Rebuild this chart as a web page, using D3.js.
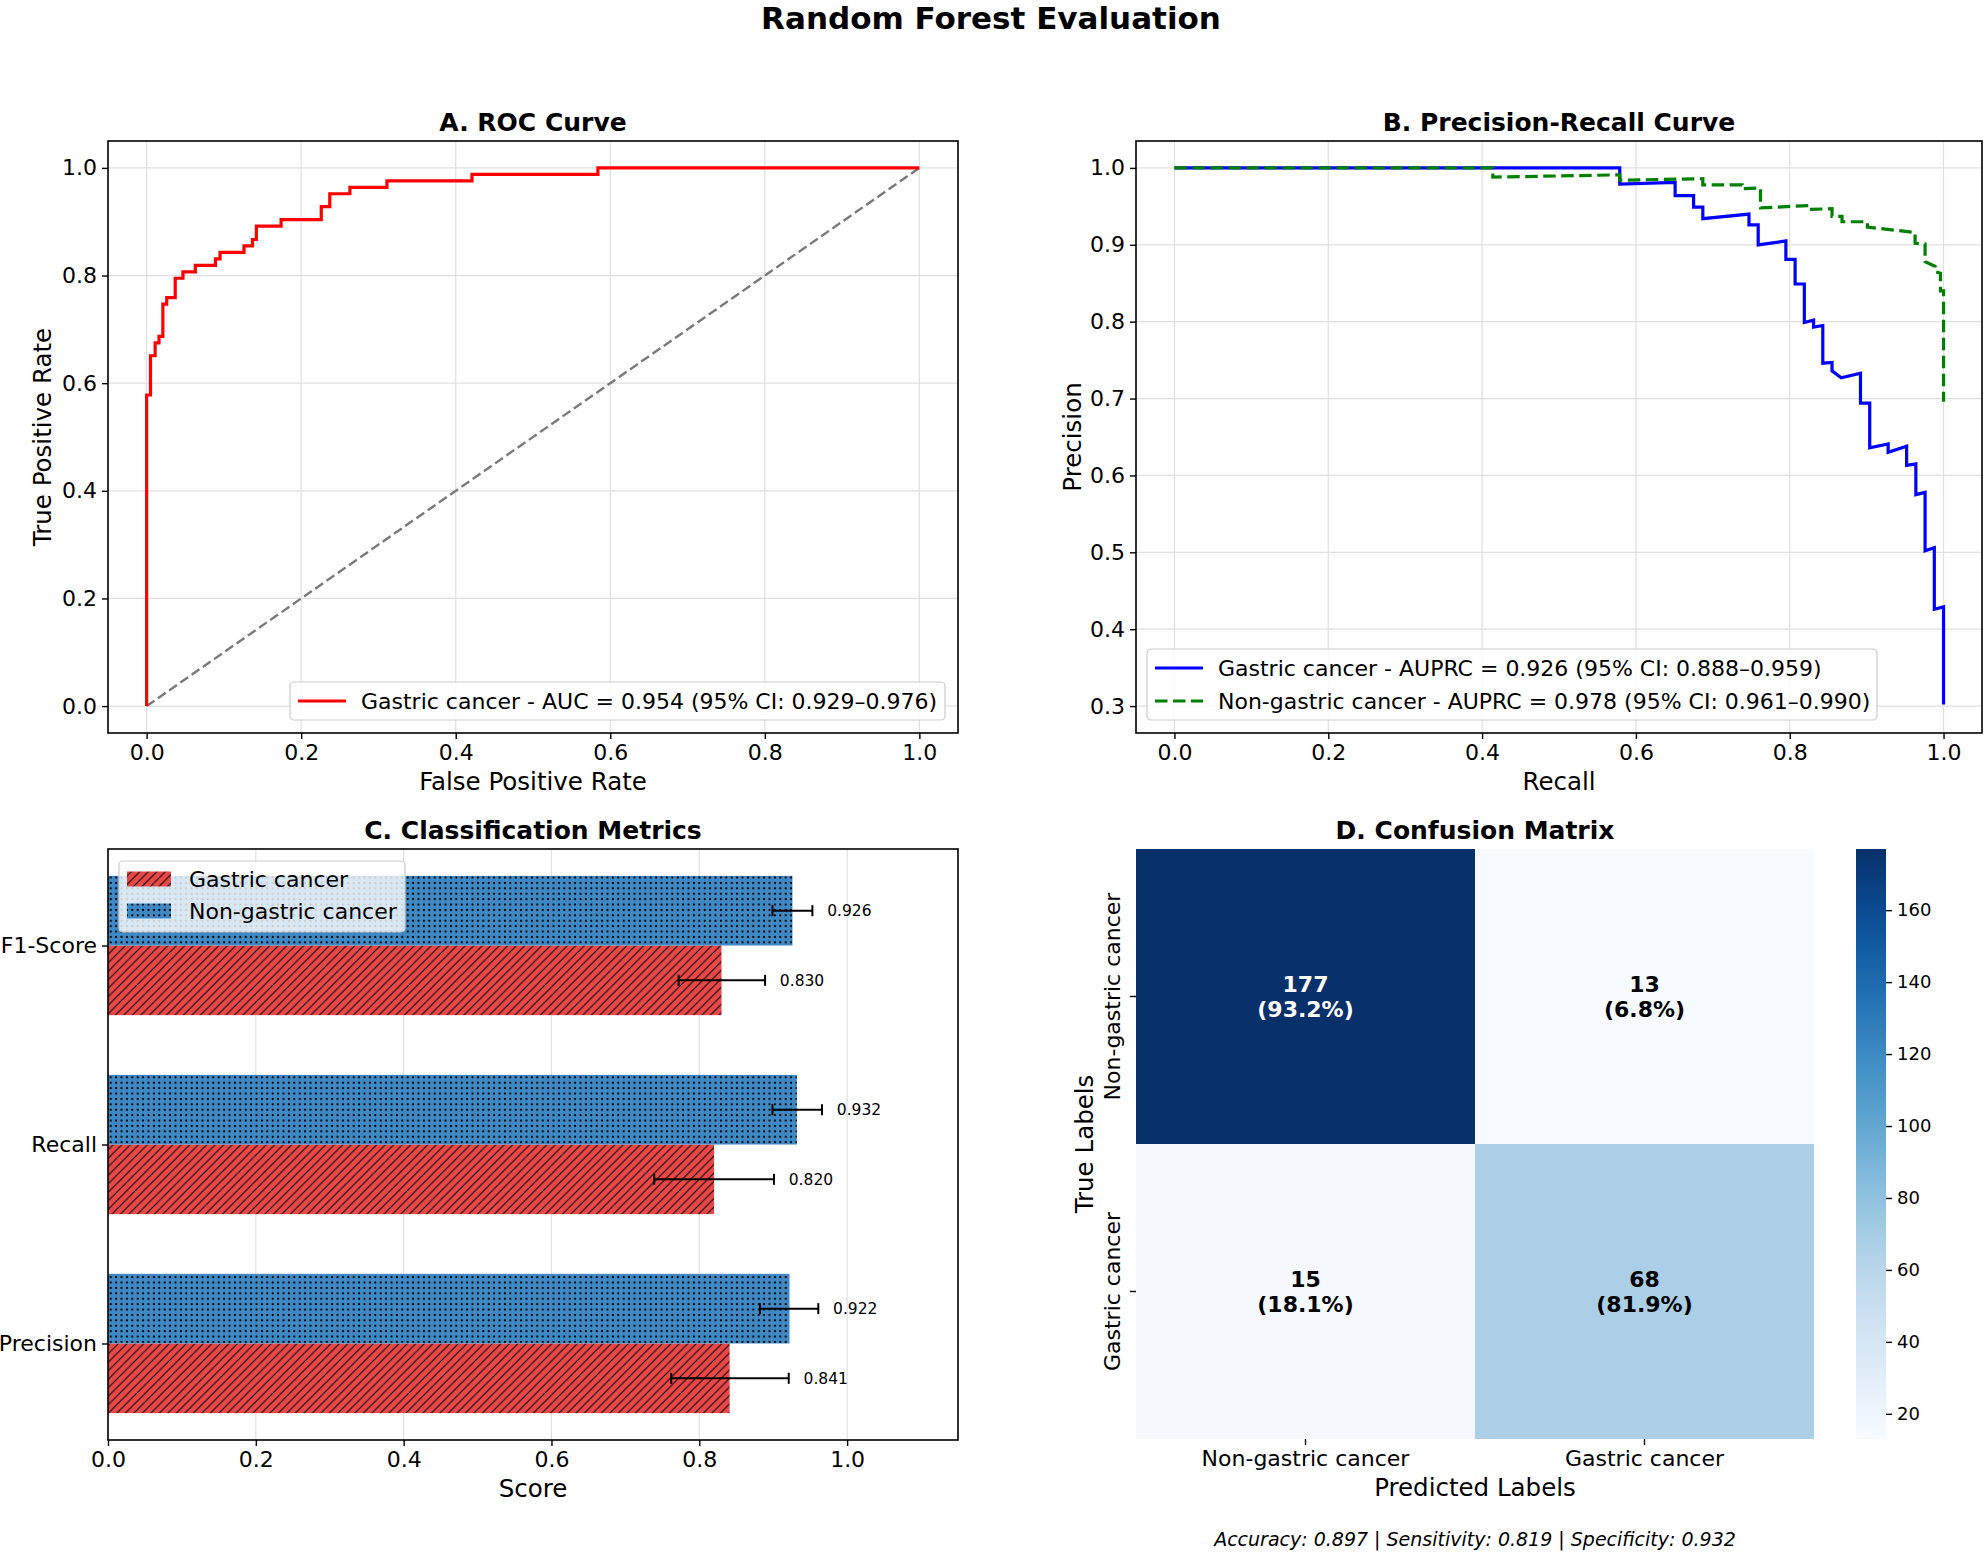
<!DOCTYPE html>
<html>
<head>
<meta charset="utf-8">
<script src="https://cdn.jsdelivr.net/npm/d3@7"></script>
<style>
  body { margin: 0; background: #fff; }
  svg { font-family: "DejaVu Sans", sans-serif; }
  .axis text { font-family: "DejaVu Sans", sans-serif; font-size: 22px; fill: #000; }
  .axis line { stroke: #000; stroke-width: 1.4; }
  .cbar text { font-size: 18px; }
</style>
</head>
<body>
<div id="viz"></div>
<script>
// ---- data ----
// ROC corners (fpr, tpr), drawn as step-after
const rocFpr = [0, 0, 0.005, 0.011, 0.016, 0.021, 0.026, 0.037, 0.047, 0.063, 0.089, 0.095, 0.126, 0.137, 0.142, 0.174, 0.226, 0.237, 0.263, 0.311, 0.421, 0.584, 1.0];
const rocTpr = [0, 0.578, 0.651, 0.675, 0.687, 0.747, 0.759, 0.795, 0.807, 0.819, 0.831, 0.843, 0.855, 0.867, 0.892, 0.904, 0.928, 0.952, 0.964, 0.976, 0.988, 1.0, 1.0];
const rocLabel = "Gastric cancer - AUC = 0.954 (95% CI: 0.929\u20130.976)";

// precision-recall, gastric cancer
const prGastricRecall = [0, 0.579, 0.579, 0.651, 0.651, 0.675, 0.675, 0.687, 0.687, 0.747, 0.747, 0.759, 0.759, 0.795, 0.795, 0.807, 0.807, 0.819, 0.819, 0.831, 0.831, 0.843, 0.843, 0.855, 0.855, 0.867, 0.892, 0.892, 0.904, 0.904, 0.928, 0.928, 0.952, 0.952, 0.964, 0.964, 0.976, 0.976, 0.988, 0.988, 1.0, 1.0];
const prGastricPrecision = [1.0, 1.0, 0.979, 0.981, 0.964, 0.964, 0.949, 0.949, 0.934, 0.940, 0.926, 0.926, 0.900, 0.905, 0.881, 0.881, 0.849, 0.849, 0.799, 0.802, 0.793, 0.795, 0.746, 0.747, 0.736, 0.727, 0.733, 0.694, 0.694, 0.636, 0.641, 0.630, 0.638, 0.613, 0.615, 0.575, 0.578, 0.502, 0.506, 0.426, 0.429, 0.302];
// precision-recall, non-gastric cancer
const prNonRecall = [0, 0.414, 0.414, 0.579, 0.579, 0.687, 0.687, 0.738, 0.738, 0.762, 0.762, 0.825, 0.825, 0.855, 0.855, 0.868, 0.868, 0.901, 0.901, 0.963, 0.963, 0.976, 0.976, 0.989, 0.989, 0.996, 0.996, 1.0, 1.0];
const prNonPrecision = [1.0, 1.0, 0.988, 0.991, 0.984, 0.986, 0.978, 0.978, 0.973, 0.974, 0.948, 0.951, 0.946, 0.947, 0.937, 0.937, 0.930, 0.930, 0.923, 0.916, 0.902, 0.901, 0.878, 0.872, 0.865, 0.863, 0.840, 0.840, 0.696];
const prLabels = [
  "Gastric cancer - AUPRC = 0.926 (95% CI: 0.888\u20130.959)",
  "Non-gastric cancer - AUPRC = 0.978 (95% CI: 0.961\u20130.990)"
];

// classification metrics (bottom to top)
const metricNames = ["Precision", "Recall", "F1-Score"];
const gastricScores = [0.841, 0.820, 0.830];
const gastricLow = [0.762, 0.739, 0.772];
const gastricHigh = [0.921, 0.901, 0.889];
const nonGastricScores = [0.922, 0.932, 0.926];
const nonGastricLow = [0.882, 0.899, 0.899];
const nonGastricHigh = [0.961, 0.966, 0.953];
const groupNames = ["Gastric cancer", "Non-gastric cancer"];

// confusion matrix
const cmLabels = ["Non-gastric cancer", "Gastric cancer"];
const cmCounts = [[177, 13], [15, 68]];
const cmPercents = ["93.2%", "6.8%", "18.1%", "81.9%"];
const cbarTicks = [20, 40, 60, 80, 100, 120, 140, 160];
const footer = "Accuracy: 0.897 | Sensitivity: 0.819 | Specificity: 0.932";

const unitTicks = [0, 0.2, 0.4, 0.6, 0.8, 1.0];
const prYTicks = [0.3, 0.4, 0.5, 0.6, 0.7, 0.8, 0.9, 1.0];

// ---- layout ----
const W = 1985, H = 1552;
const A = {l: 108, r: 958, t: 141, b: 733};
const B = {l: 1136, r: 1982, t: 141, b: 733};
const C = {l: 108, r: 958, t: 849, b: 1440};
const D = {l: 1136, r: 1814, t: 849, b: 1439};
const gridColor = "#e0e0e0";
const fmt1 = d3.format(".1f");

const svg = d3.select("#viz").append("svg").attr("width", W).attr("height", H);
const defs = svg.append("defs");

// hatch patterns for the bars
const hatch = defs.append("pattern").attr("id", "hatchRed")
  .attr("patternUnits", "userSpaceOnUse").attr("width", 8.5).attr("height", 8.5);
hatch.append("rect").attr("width", 8.5).attr("height", 8.5).attr("fill", "#e84848");
hatch.append("path").attr("d", "M-2,2 L2,-2 M0,8.5 L8.5,0 M6.5,10.5 L10.5,6.5")
  .attr("stroke", "#000").attr("stroke-width", 1);
const dots = defs.append("pattern").attr("id", "dotsBlue")
  .attr("patternUnits", "userSpaceOnUse").attr("width", 5.4).attr("height", 5.4);
dots.append("rect").attr("width", 5.4).attr("height", 5.4).attr("fill", "#3f8ac6");
dots.append("circle").attr("cx", 2.7).attr("cy", 2.7).attr("r", 1.1).attr("fill", "#000");

// suptitle
svg.append("text").attr("x", 991).attr("y", 29).attr("text-anchor", "middle")
  .attr("font-size", 31).attr("font-weight", "bold").text("Random Forest Evaluation");

function title(box, txt) {
  svg.append("text").attr("x", (box.l + box.r) / 2).attr("y", box.t - 10)
    .attr("text-anchor", "middle").attr("font-size", 25).attr("font-weight", "bold").text(txt);
}
function xLabel(box, txt) {
  svg.append("text").attr("x", (box.l + box.r) / 2).attr("y", box.b + 57)
    .attr("text-anchor", "middle").attr("font-size", 24.5).text(txt);
}
function yLabel(x, box, txt) {
  svg.append("text").attr("transform", `translate(${x},${(box.t + box.b) / 2}) rotate(-90)`)
    .attr("text-anchor", "middle").attr("dy", "0.35em").attr("font-size", 24.5).text(txt);
}
function frame(box) {
  svg.append("rect").attr("x", box.l).attr("y", box.t).attr("width", box.r - box.l)
    .attr("height", box.b - box.t).attr("fill", "none").attr("stroke", "#000").attr("stroke-width", 1.6);
}
function bottomAxis(box, x, ticks, f) {
  svg.append("g").attr("class", "axis").attr("transform", `translate(0,${box.b})`)
    .call(d3.axisBottom(x).tickValues(ticks).tickFormat(f).tickSize(6).tickPadding(5))
    .call(g => g.select(".domain").remove());
}
function leftAxis(box, y, ticks, f) {
  svg.append("g").attr("class", "axis").attr("transform", `translate(${box.l},0)`)
    .call(d3.axisLeft(y).tickValues(ticks).tickFormat(f).tickSize(6).tickPadding(5))
    .call(g => g.select(".domain").remove());
}
function grid(box, x, y, xt, yt) {
  const g = svg.append("g");
  if (xt) g.selectAll(".gx").data(xt).join("line")
    .attr("x1", d => x(d)).attr("x2", d => x(d)).attr("y1", box.t).attr("y2", box.b)
    .attr("stroke", gridColor).attr("stroke-width", 1.2);
  if (yt) g.selectAll(".gy").data(yt).join("line")
    .attr("y1", d => y(d)).attr("y2", d => y(d)).attr("x1", box.l).attr("x2", box.r)
    .attr("stroke", gridColor).attr("stroke-width", 1.2);
}
function lineLegend(x, y, w, h, items) {
  const g = svg.append("g");
  g.append("rect").attr("x", x).attr("y", y).attr("width", w).attr("height", h).attr("rx", 4)
    .attr("fill", "#fff").attr("fill-opacity", 0.8).attr("stroke", "#cccccc").attr("stroke-width", 1.2);
  items.forEach((it, i) => {
    const cy = y + 19 + i * 33;
    g.append("line").attr("x1", x + 8).attr("x2", x + 56).attr("y1", cy).attr("y2", cy)
      .attr("stroke", it.color).attr("stroke-width", 3.2).attr("stroke-dasharray", it.dash || null);
    g.append("text").attr("x", x + 71).attr("y", cy).attr("dy", "0.35em").attr("font-size", 22).text(it.label);
  });
}

// ---- A. ROC ----
const xA = d3.scaleLinear().domain([-0.05, 1.05]).range([A.l, A.r]);
const yA = d3.scaleLinear().domain([-0.05, 1.05]).range([A.b, A.t]);
grid(A, xA, yA, unitTicks, unitTicks);
svg.append("line").attr("x1", xA(0)).attr("y1", yA(0)).attr("x2", xA(1)).attr("y2", yA(1))
  .attr("stroke", "#7a7a7a").attr("stroke-width", 2.4).attr("stroke-dasharray", "9.5,4.2");
svg.append("path").datum(d3.zip(rocFpr, rocTpr))
  .attr("d", d3.line().x(d => xA(d[0])).y(d => yA(d[1])).curve(d3.curveStepAfter))
  .attr("fill", "none").attr("stroke", "#ff0000").attr("stroke-width", 3.2);
frame(A);
bottomAxis(A, xA, unitTicks, fmt1);
leftAxis(A, yA, unitTicks, fmt1);
title(A, "A. ROC Curve");
xLabel(A, "False Positive Rate");
yLabel(42, A, "True Positive Rate");
lineLegend(290, 682, 655, 38, [{color: "#ff0000", label: rocLabel}]);

// ---- B. Precision-Recall ----
const xB = d3.scaleLinear().domain([-0.05, 1.05]).range([B.l, B.r]);
const yB = d3.scaleLinear().domain([0.265, 1.035]).range([B.b, B.t]);
grid(B, xB, yB, unitTicks, prYTicks);
const prLine = d3.line().x(d => xB(d[0])).y(d => yB(d[1]));
svg.append("path").datum(d3.zip(prGastricRecall, prGastricPrecision)).attr("d", prLine)
  .attr("fill", "none").attr("stroke", "#0000ff").attr("stroke-width", 3.2);
svg.append("path").datum(d3.zip(prNonRecall, prNonPrecision)).attr("d", prLine)
  .attr("fill", "none").attr("stroke", "#008000").attr("stroke-width", 3.2).attr("stroke-dasharray", "12.5,5.5");
frame(B);
bottomAxis(B, xB, unitTicks, fmt1);
leftAxis(B, yB, prYTicks, fmt1);
title(B, "B. Precision-Recall Curve");
xLabel(B, "Recall");
yLabel(1072, B, "Precision");
lineLegend(1147, 649, 730, 71, [
  {color: "#0000ff", label: prLabels[0]},
  {color: "#008000", label: prLabels[1], dash: "12.5,5.5"}
]);

// ---- C. Classification metrics ----
const xC = d3.scaleLinear().domain([0, 1.15]).range([C.l, C.r]);
const yC = d3.scaleLinear().domain([-0.485, 2.485]).range([C.b, C.t]);
const barH = 0.35;
grid(C, xC, yC, unitTicks, null);
const series = [
  {name: groupNames[0], vals: gastricScores, lo: gastricLow, hi: gastricHigh, off: -barH, fill: "url(#hatchRed)"},
  {name: groupNames[1], vals: nonGastricScores, lo: nonGastricLow, hi: nonGastricHigh, off: 0, fill: "url(#dotsBlue)"}
];
series.forEach(s => {
  const rows = metricNames.map((m, i) => ({i, v: s.vals[i], lo: s.lo[i], hi: s.hi[i]}));
  const g = svg.append("g");
  g.selectAll("rect").data(rows).join("rect")
    .attr("x", xC(0)).attr("width", d => xC(d.v) - xC(0))
    .attr("y", d => yC(d.i + s.off + barH)).attr("height", d => yC(d.i + s.off) - yC(d.i + s.off + barH))
    .attr("fill", s.fill);
  const cy = d => yC(d.i + s.off + barH / 2);
  g.selectAll(".err").data(rows).join("line")
    .attr("x1", d => xC(d.lo)).attr("x2", d => xC(d.hi)).attr("y1", cy).attr("y2", cy)
    .attr("stroke", "#000").attr("stroke-width", 2);
  ["lo", "hi"].forEach(k => {
    g.selectAll(".cap" + k).data(rows).join("line")
      .attr("x1", d => xC(d[k])).attr("x2", d => xC(d[k]))
      .attr("y1", d => cy(d) - 5.5).attr("y2", d => cy(d) + 5.5)
      .attr("stroke", "#000").attr("stroke-width", 2);
  });
  g.selectAll("text").data(rows).join("text")
    .attr("x", d => xC(d.hi + 0.02)).attr("y", cy).attr("dy", "0.35em")
    .attr("font-size", 15.5).text(d => d.v.toFixed(3));
});
frame(C);
bottomAxis(C, xC, unitTicks, fmt1);
svg.append("g").attr("class", "axis").attr("transform", `translate(${C.l},0)`)
  .call(d3.axisLeft(yC).tickValues([0, 1, 2]).tickFormat(i => metricNames[i]).tickSize(6).tickPadding(5))
  .call(g => g.select(".domain").remove());
title(C, "C. Classification Metrics");
xLabel(C, "Score");
// legend with patch swatches
const legC = svg.append("g");
legC.append("rect").attr("x", 119).attr("y", 861).attr("width", 286).attr("height", 71).attr("rx", 4)
  .attr("fill", "#fff").attr("fill-opacity", 0.8).attr("stroke", "#cccccc").attr("stroke-width", 1.2);
series.forEach((s, i) => {
  const cy = 879 + i * 32;
  legC.append("rect").attr("x", 127).attr("y", cy - 7.5).attr("width", 44).attr("height", 15).attr("fill", s.fill);
  legC.append("text").attr("x", 189).attr("y", cy).attr("dy", "0.35em").attr("font-size", 22).text(s.name);
});

// ---- D. Confusion matrix ----
const xD = d3.scaleBand().domain(cmLabels).range([D.l, D.r]);
const yD = d3.scaleBand().domain(cmLabels).range([D.t, D.b]);
const cMin = 13, cMax = 177;
const color = d3.scaleSequential(d3.interpolateBlues).domain([cMin, cMax]);
const cells = [];
cmLabels.forEach((t, r) => cmLabels.forEach((p, c) => cells.push({t, p, v: cmCounts[r][c], pct: cmPercents[r * 2 + c]})));
svg.append("g").selectAll("rect").data(cells).join("rect")
  .attr("x", d => xD(d.p)).attr("y", d => yD(d.t))
  .attr("width", xD.bandwidth()).attr("height", yD.bandwidth())
  .attr("fill", d => color(d.v));
const ann = svg.append("g").selectAll("text").data(cells).join("text")
  .attr("text-anchor", "middle").attr("font-size", 22).attr("font-weight", "bold")
  .attr("fill", d => d.v > (cMin + cMax) / 2 ? "#fff" : "#000");
ann.append("tspan").attr("x", d => xD(d.p) + xD.bandwidth() / 2)
  .attr("y", d => yD(d.t) + yD.bandwidth() / 2 - 5).text(d => d.v);
ann.append("tspan").attr("x", d => xD(d.p) + xD.bandwidth() / 2)
  .attr("y", d => yD(d.t) + yD.bandwidth() / 2 + 20).text(d => `(${d.pct})`);
svg.append("g").attr("class", "axis").attr("transform", `translate(0,${D.b})`)
  .call(d3.axisBottom(xD).tickSize(6).tickPadding(5))
  .call(g => g.select(".domain").remove());
const yAxD = svg.append("g").attr("class", "axis").attr("transform", `translate(${D.l},0)`)
  .call(d3.axisLeft(yD).tickSize(6).tickPadding(5))
  .call(g => g.select(".domain").remove());
yAxD.selectAll(".tick text").attr("x", null).attr("dy", "0.35em")
  .attr("transform", "translate(-24,0) rotate(-90)").attr("text-anchor", "middle");
title(D, "D. Confusion Matrix");
xLabel(D, "Predicted Labels");
yLabel(1084, D, "True Labels");

// colorbar
const cb = {l: 1856, w: 30};
const yCb = d3.scaleLinear().domain([cMin, cMax]).range([D.b, D.t]);
const grad = defs.append("linearGradient").attr("id", "cbarGrad")
  .attr("x1", 0).attr("y1", 1).attr("x2", 0).attr("y2", 0);
grad.selectAll("stop").data(d3.range(0, 1.0001, 0.05)).join("stop")
  .attr("offset", t => t).attr("stop-color", t => d3.interpolateBlues(t));
svg.append("rect").attr("x", cb.l).attr("y", D.t).attr("width", cb.w).attr("height", D.b - D.t)
  .attr("fill", "url(#cbarGrad)");
svg.append("g").attr("class", "axis cbar").attr("transform", `translate(${cb.l + cb.w},0)`)
  .call(d3.axisRight(yCb).tickValues(cbarTicks).tickSize(6).tickPadding(5))
  .call(g => g.select(".domain").remove());

// footer
svg.append("text").attr("x", 1475).attr("y", 1546).attr("text-anchor", "middle")
  .attr("font-size", 19).attr("font-style", "italic").text(footer);
</script>
</body>
</html>
